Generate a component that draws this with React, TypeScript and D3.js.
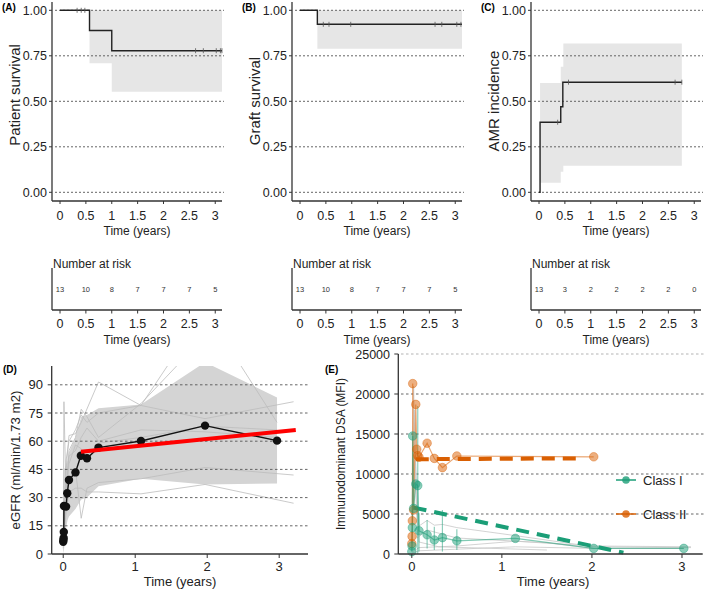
import React from 'react';
import * as d3 from 'd3';

// ---- panel A: patient survival (Kaplan-Meier) ----
const patientT = [0, 0.57, 1.0, 3.13];
const patientS = [1, 0.889, 0.778, 0.778];
const patientCiT = [0.57, 1.0, 3.13];
const patientCiLo = [0.709, 0.553, 0.553];
const patientCiHi = [1, 1, 1];
const patientCensor = [0.33, 0.41, 0.48, 2.62, 2.77, 3.02, 3.1, 3.13];

// ---- panel B: graft survival ----
const graftT = [0, 0.335, 3.13];
const graftS = [1, 0.923, 0.923];
const graftCiT = [0.335, 3.13];
const graftCiLo = [0.789, 0.789];
const graftCiHi = [1, 1];
const graftCensor = [0.45, 0.56, 0.98, 2.61, 2.74, 3.03, 3.11];

// ---- panel C: AMR cumulative incidence ----
const amrT = [0, 0.02, 0.42, 0.46, 2.76];
const amrS = [0, 0.385, 0.47, 0.605, 0.605];
const amrCiT = [0.02, 0.42, 0.47, 2.76];
const amrCiLo = [0.053, 0.113, 0.146, 0.146];
const amrCiHi = [0.6, 0.69, 0.817, 0.817];
const amrCensor = [0.36, 0.57, 2.63, 2.76];

// number at risk
const riskTimes = [0, 0.5, 1, 1.5, 2, 2.5, 3];
const riskPatient = [13, 10, 8, 7, 7, 7, 5];
const riskGraft = [13, 10, 8, 7, 7, 7, 5];
const riskAmr = [13, 3, 2, 2, 2, 2, 0];

const kmTicksX = [0, 0.5, 1, 1.5, 2, 2.5, 3];
const kmTicksY = [0, 0.25, 0.5, 0.75, 1];

// ---- panel D: eGFR ----
const meanT = [0, 0.003, 0.006, 0.008, 0.01, 0.04, 0.056, 0.08, 0.17, 0.245, 0.33, 0.49, 1.08, 1.97, 2.97];
const meanV = [6.5, 7.5, 8.5, 11.7, 25.5, 25.2, 32.3, 39.4, 43.4, 52.3, 50.9, 56.6, 60.1, 68.3, 60.3];
const ribbonT = [0, 0.01, 0.04, 0.06, 0.08, 0.17, 0.25, 0.33, 0.49, 1.08, 1.97, 2.97];
const ribbonLo = [0, 2, 14, 18, 20, 24, 29, 30, 36, 40, 37, 37.5];
const ribbonHi = [20, 45, 47, 50, 54, 62, 73, 74, 77.5, 79.5, 102, 83.3];
const trendT = [0.246, 3.23];
const trendV = [54.4, 66];
const egfrPatients: [number, number][][] = [
  [[0, 8], [0.01, 81], [0.04, 30], [0.08, 55], [0.17, 62], [0.25, 77], [0.33, 73], [0.49, 62], [1.08, 80], [1.6, 101]],
  [[0, 5], [0.04, 45], [0.08, 63], [0.17, 64], [0.25, 70], [0.49, 91.5], [1.08, 79], [1.97, 72], [3.2, 81]],
  [[0, 3], [0.04, 28], [0.08, 40], [0.17, 45], [0.25, 19], [0.33, 35], [0.49, 38], [1.08, 40], [1.97, 46], [3.2, 42]],
  [[0, 6], [0.04, 22], [0.08, 33], [0.17, 35], [0.25, 35], [0.33, 33], [0.49, 33], [1.08, 32], [1.97, 37], [3.2, 27]],
  [[0, 10], [0.04, 35], [0.08, 52], [0.17, 55], [0.25, 62], [0.33, 67], [0.49, 60], [1.08, 66], [1.97, 65], [2.97, 62]],
  [[0, 7], [0.04, 30], [0.08, 48], [0.17, 58], [0.25, 56], [0.33, 52], [0.49, 59], [1.08, 62], [1.97, 68], [2.97, 66]],
  [[0, 12], [0.04, 50], [0.08, 60], [0.17, 66], [0.25, 74], [0.33, 70], [0.49, 75], [1.08, 79], [1.97, 130], [2.97, 70]],
];
const egfrTicksY = [0, 15, 30, 45, 60, 75, 90];
const yearTicks = [0, 1, 2, 3];

// ---- panel E: immunodominant DSA ----
const classIT = [0, 0.003, 0.006, 0.01, 0.02, 0.044, 0.066, 0.08, 0.17, 0.25, 0.34, 0.5, 1.15, 2.02, 3.02];
const classIV = [300, 1000, 3300, 14750, 5700, 8750, 8550, 2900, 2400, 1750, 2050, 1650, 1950, 700, 700];
const classIIT = [0, 0.003, 0.006, 0.01, 0.02, 0.044, 0.055, 0.066, 0.08, 0.17, 0.25, 0.34, 0.5, 2.02];
const classIIV = [1300, 2200, 4150, 21300, 5500, 18700, 13100, 12300, 12100, 13850, 11950, 10800, 12250, 12150];
const classIErrT = [0.066, 0.08, 0.17, 0.25, 0.34, 0.5];
const classIErrLo = [0, 300, 700, 500, 300, 500];
const classIErrHi = [18500, 5100, 4250, 3400, 5500, 3100];
const classITrendT = [0.02, 2.35];
const classITrendV = [5800, 170];
const classIITrendT = [0.044, 1.84];
const classIITrendV = [11850, 11950];
const dsaPatients: [number, number][][] = [
  [[0, 500], [0.02, 21000], [0.05, 6000], [0.08, 3500], [0.17, 4200], [0.25, 3600], [0.34, 3700], [0.5, 3300], [1.15, 2300], [2.02, 900], [3.1, 800]],
  [[0, 300], [0.03, 18000], [0.06, 2000], [0.17, 3000], [0.5, 2000], [1.5, 1400], [2.02, 700]],
  [[0, 200], [0.08, 800], [0.5, 1000], [1.15, 1600], [2.02, 1000], [3.1, 900]],
  [[0, 100], [0.08, 400], [0.5, 600], [1.15, 900], [2.02, 700], [3.02, 700]],
  [[0, 1000], [0.04, 12000], [0.08, 1500], [0.3, 900], [1.5, 500]],
];
const dsaTicksY = [0, 5000, 10000, 15000, 20000, 25000];
const legendLabels = ['Class I', 'Class II'];

const FONT = 'Liberation Sans, Arial, Helvetica, sans-serif';
const GREEN = '#1b9e77';
const ORANGE = '#d95f02';
const GRID = '#555';

const zip = (t: number[], v: number[]) => t.map((d, i) => [d, v[i]] as [number, number]);

function KmPanel(props: {
  ox: number; letter: string; ylab: string; ylabY: number;
  t: number[]; s: number[]; ciT: number[]; ciLo: number[]; ciHi: number[];
  censor: number[]; risk: number[];
}) {
  const { ox, letter, ylab, ylabY, t, s, ciT, ciLo, ciHi, censor, risk } = props;
  const axisX = 52 + ox;
  const x = d3.scaleLinear().domain([-0.155, 3.15]).range([axisX, axisX + 171]);
  const y = d3.scaleLinear().domain([0, 1]).range([192.3, 10.3]);
  const line = d3.line<[number, number]>().x(d => x(d[0])).y(d => y(d[1])).curve(d3.curveStepAfter);
  const band = d3.area<number>()
    .x((d, i) => x(ciT[i])).y0((d, i) => y(ciLo[i])).y1((d, i) => y(ciHi[i]))
    .curve(d3.curveStepAfter);
  const pts = zip(t, s);
  const survAt = (c: number) => {
    let v = s[0];
    for (let i = 0; i < t.length; i++) if (t[i] <= c) v = s[i];
    return v;
  };
  return (
    <g fontFamily={FONT}>
      <text x={ox + 2} y={11} fontSize={10} fontWeight="bold">{letter}</text>
      <path d={band(ciT) || ''} fill="#e6e6e6" />
      {kmTicksY.map(v => (
        <line key={v} x1={axisX + 3} x2={axisX + 172} y1={y(v)} y2={y(v)} stroke={GRID} strokeDasharray="2,2" strokeWidth={0.9} />
      ))}
      <path d={line(pts) || ''} fill="none" stroke="#222" strokeWidth={1.4} />
      {censor.map((c, i) => (
        <line key={i} x1={x(c)} x2={x(c)} y1={y(survAt(c)) - 2.5} y2={y(survAt(c)) + 2.5} stroke="#555" strokeWidth={0.8} />
      ))}
      <line x1={axisX} x2={axisX} y1={2} y2={201} stroke="#333" strokeWidth={1.3} />
      <line x1={axisX} x2={axisX + 170} y1={201} y2={201} stroke="#333" strokeWidth={1.3} />
      {kmTicksY.map(v => (
        <g key={v}>
          <line x1={axisX - 3} x2={axisX} y1={y(v)} y2={y(v)} stroke="#333" />
          <text x={axisX - 5} y={y(v) + 4.5} fontSize={12.5} textAnchor="end" fill="#222">{v.toFixed(2)}</text>
        </g>
      ))}
      {kmTicksX.map(v => (
        <g key={v}>
          <line x1={x(v)} x2={x(v)} y1={201} y2={204} stroke="#333" />
          <text x={x(v)} y={219.5} fontSize={12.5} textAnchor="middle" fill="#222">{v}</text>
        </g>
      ))}
      <text x={axisX + 85} y={234.5} fontSize={12} textAnchor="middle" fill="#222">Time (years)</text>
      <text transform={`translate(${ox + 19.5},${ylabY}) rotate(-90)`} fontSize={15} textAnchor="middle" fill="#222">{ylab}</text>

      {/* number at risk table */}
      <text x={axisX + 1} y={267.5} fontSize={12} fill="#222">Number at risk</text>
      <line x1={axisX} x2={axisX} y1={268} y2={310} stroke="#333" strokeWidth={1.3} />
      <line x1={axisX} x2={axisX + 170} y1={310} y2={310} stroke="#333" strokeWidth={1.3} />
      {riskTimes.map((rt, i) => (
        <text key={rt} x={x(rt)} y={292} fontSize={7.5} textAnchor="middle" fill="#333">{risk[i]}</text>
      ))}
      {kmTicksX.map(v => (
        <g key={v}>
          <line x1={x(v)} x2={x(v)} y1={310} y2={313.5} stroke="#333" />
          <text x={x(v)} y={327.5} fontSize={12.5} textAnchor="middle" fill="#222">{v}</text>
        </g>
      ))}
      <text x={axisX + 85} y={344} fontSize={12} textAnchor="middle" fill="#222">Time (years)</text>
    </g>
  );
}

function EgfrPanel() {
  const x = d3.scaleLinear().domain([-0.16, 3.4]).range([51.7, 308]);
  const y = d3.scaleLinear().domain([0, 100]).range([554, 366]);
  const line = d3.line<[number, number]>().x(d => x(d[0])).y(d => y(d[1]));
  const ribbon = d3.area<number>()
    .x((d, i) => x(ribbonT[i])).y0((d, i) => y(ribbonLo[i])).y1((d, i) => y(ribbonHi[i]));
  const mean = zip(meanT, meanV);
  return (
    <g fontFamily={FONT}>
      <defs>
        <clipPath id="clipD"><rect x={52} y={366} width={260} height={190} /></clipPath>
      </defs>
      <text x={3} y={373} fontSize={10} fontWeight="bold">(D)</text>
      <g clipPath="url(#clipD)">
        <path d={ribbon(ribbonT) || ''} fill="#d4d4d4" />
        {egfrPatients.map((p, i) => (
          <path key={i} d={line(p) || ''} fill="none" stroke="#bdbdbd" strokeWidth={0.8} />
        ))}
      </g>
      {egfrTicksY.filter(v => v > 0).map(v => (
        <line key={v} x1={55} x2={308} y1={y(v)} y2={y(v)} stroke={GRID} strokeDasharray="2.5,2.5" strokeWidth={0.9} />
      ))}
      <path d={line(mean) || ''} fill="none" stroke="#111" strokeWidth={1.4} />
      {mean.map((d, i) => (
        <circle key={i} cx={x(d[0])} cy={y(d[1])} r={4.2} fill="#111" />
      ))}
      <path d={line(zip(trendT, trendV)) || ''} stroke="#ff0000" strokeWidth={4} fill="none" />
      <line x1={51.7} x2={51.7} y1={366} y2={554} stroke="#333" strokeWidth={1.3} />
      <line x1={51.7} x2={308} y1={554} y2={554} stroke="#333" strokeWidth={1.3} />
      {egfrTicksY.map(v => (
        <g key={v}>
          <line x1={47.7} x2={51.7} y1={y(v)} y2={y(v)} stroke="#333" />
          <text x={43} y={y(v) + 4.5} fontSize={13} textAnchor="end" fill="#222">{v}</text>
        </g>
      ))}
      {yearTicks.map(v => (
        <g key={v}>
          <line x1={x(v)} x2={x(v)} y1={554} y2={558} stroke="#333" />
          <text x={x(v)} y={570.5} fontSize={13} textAnchor="middle" fill="#222">{v}</text>
        </g>
      ))}
      <text x={180} y={586} fontSize={13} textAnchor="middle" fill="#222">Time (years)</text>
      <text transform="translate(19.5,460) rotate(-90)" fontSize={13.3} textAnchor="middle" fill="#222">eGFR (ml/min/1.73 m2)</text>
    </g>
  );
}

function DsaPanel() {
  const x = d3.scaleLinear().domain([-0.15, 3.23]).range([398.3, 702.7]);
  const y = d3.scaleLinear().domain([0, 25000]).range([554, 354]);
  const line = d3.line<[number, number]>().x(d => x(d[0])).y(d => y(d[1]));
  const c1 = zip(classIT, classIV);
  const c2 = zip(classIIT, classIIV);
  return (
    <g fontFamily={FONT}>
      <text x={325} y={373} fontSize={10} fontWeight="bold">(E)</text>
      {dsaTicksY.filter(v => v > 0).map(v => (
        <line key={v} x1={401} x2={706} y1={y(v)} y2={y(v)} stroke={v === 25000 ? '#aaa' : GRID} strokeDasharray="2.5,2.5" strokeWidth={0.9} />
      ))}
      {dsaPatients.map((p, i) => (
        <path key={i} d={line(p) || ''} fill="none" stroke="#c8c8c8" strokeWidth={0.8} />
      ))}
      <path d={line(c2) || ''} fill="none" stroke={ORANGE} strokeOpacity={0.55} strokeWidth={1.2} />
      <path d={line(c1) || ''} fill="none" stroke={GREEN} strokeOpacity={0.55} strokeWidth={1.2} />
      {classIErrT.map((t, i) => (
        <line key={i} x1={x(t)} x2={x(t)} y1={y(classIErrLo[i])} y2={y(classIErrHi[i])} stroke={GREEN} strokeOpacity={0.5} strokeWidth={1.2} />
      ))}
      <path d={line(zip(classIITrendT, classIITrendV)) || ''} fill="none" stroke={ORANGE} strokeWidth={4} strokeDasharray="13,8" />
      <path d={line(zip(classITrendT, classITrendV)) || ''} fill="none" stroke={GREEN} strokeWidth={4} strokeDasharray="13,8" />
      {c2.map((d, i) => (
        <circle key={i} cx={x(d[0])} cy={y(d[1])} r={4.3} fill={ORANGE} fillOpacity={0.5} stroke={ORANGE} strokeOpacity={0.4} />
      ))}
      {c1.map((d, i) => (
        <circle key={i} cx={x(d[0])} cy={y(d[1])} r={4.3} fill={GREEN} fillOpacity={0.5} stroke={GREEN} strokeOpacity={0.4} />
      ))}
      <line x1={398.3} x2={398.3} y1={354} y2={554} stroke="#333" strokeWidth={1.3} />
      <line x1={398.3} x2={702.7} y1={554} y2={554} stroke="#333" strokeWidth={1.3} />
      {dsaTicksY.map(v => (
        <g key={v}>
          <line x1={394.3} x2={398.3} y1={y(v)} y2={y(v)} stroke="#333" />
          <text x={390} y={y(v) + 4.5} fontSize={12.5} textAnchor="end" fill="#222">{v}</text>
        </g>
      ))}
      {yearTicks.map(v => (
        <g key={v}>
          <line x1={x(v)} x2={x(v)} y1={554} y2={558} stroke="#333" />
          <text x={x(v)} y={570.5} fontSize={13} textAnchor="middle" fill="#222">{v}</text>
        </g>
      ))}
      <text x={553} y={586} fontSize={13} textAnchor="middle" fill="#222">Time (years)</text>
      <text transform="translate(345,454) rotate(-90)" fontSize={12} textAnchor="middle" fill="#222">Immunodominant DSA (MFI)</text>
      {legendLabels.map((lab, i) => {
        const ly = 480 + i * 34;
        const col = i === 0 ? GREEN : ORANGE;
        return (
          <g key={lab}>
            <line x1={616} x2={636} y1={ly} y2={ly} stroke={col} strokeWidth={1.5} />
            <circle cx={626} cy={ly} r={3.8} fill={col} fillOpacity={0.8} />
            <text x={643} y={ly + 4.5} fontSize={13} fill="#222">{lab}</text>
          </g>
        );
      })}
    </g>
  );
}

export default function App() {
  return (
    <svg width={709} height={590} style={{ position: 'absolute', left: 0, top: 0, background: '#fff' }}>
      <rect width={709} height={590} fill="#fff" />
      <KmPanel ox={0} letter="(A)" ylab="Patient survival" ylabY={95}
        t={patientT} s={patientS} ciT={patientCiT} ciLo={patientCiLo} ciHi={patientCiHi}
        censor={patientCensor} risk={riskPatient} />
      <KmPanel ox={240} letter="(B)" ylab="Graft survival" ylabY={101}
        t={graftT} s={graftS} ciT={graftCiT} ciLo={graftCiLo} ciHi={graftCiHi}
        censor={graftCensor} risk={riskGraft} />
      <KmPanel ox={479} letter="(C)" ylab="AMR incidence" ylabY={101}
        t={amrT} s={amrS} ciT={amrCiT} ciLo={amrCiLo} ciHi={amrCiHi}
        censor={amrCensor} risk={riskAmr} />
      <EgfrPanel />
      <DsaPanel />
    </svg>
  );
}
